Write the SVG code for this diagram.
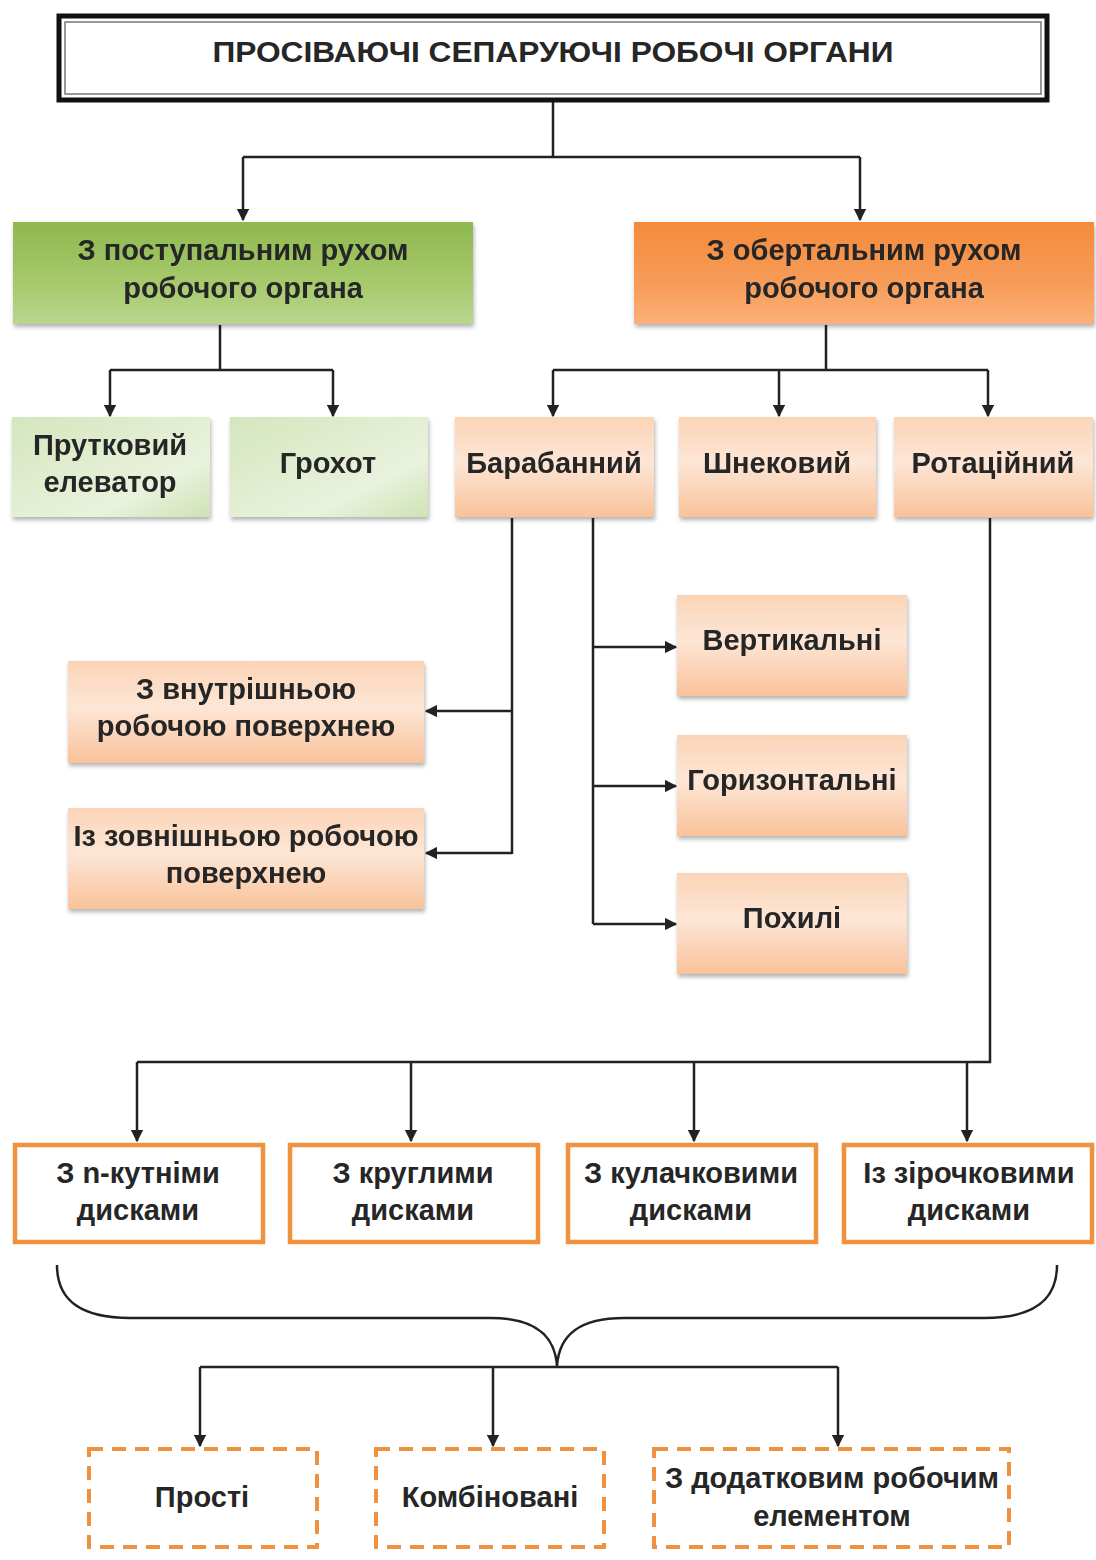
<svg xmlns="http://www.w3.org/2000/svg" width="1096" height="1560" viewBox="0 0 1096 1560">
<style>
text{font-family:"Liberation Sans",Arial,sans-serif;font-size:29px;font-weight:bold;fill:#262626;text-anchor:middle;dominant-baseline:central}
.c{fill:none;stroke:#222;stroke-width:2.5}
.ob{fill:#fff;stroke:#f0913f;stroke-width:4.5}
.db{fill:#fff;stroke:#f0913f;stroke-width:4;stroke-dasharray:14 9}
</style>
<defs>
<linearGradient id="gG" x1="0" y1="0" x2="0" y2="1"><stop offset="0" stop-color="#8fb84f"/><stop offset="0.6" stop-color="#a6c96c"/><stop offset="1" stop-color="#b9d68e"/></linearGradient>
<linearGradient id="gO" x1="0" y1="0" x2="0" y2="1"><stop offset="0" stop-color="#f48b3a"/><stop offset="0.6" stop-color="#f79c59"/><stop offset="1" stop-color="#fbb07a"/></linearGradient>
<linearGradient id="gLG" x1="0" y1="0" x2="1" y2="1"><stop offset="0" stop-color="#d5e6bd"/><stop offset="0.7" stop-color="#e9f2dd"/><stop offset="1" stop-color="#cfe2b4"/></linearGradient>
<linearGradient id="gLO" x1="0" y1="0" x2="0" y2="1"><stop offset="0" stop-color="#fbd4b6"/><stop offset="0.45" stop-color="#fde6d6"/><stop offset="1" stop-color="#f9c29a"/></linearGradient>
<filter id="sh" x="-5%" y="-5%" width="110%" height="120%"><feDropShadow dx="1" dy="3" stdDeviation="2" flood-color="#000" flood-opacity="0.3"/></filter>
<marker id="ar" viewBox="0 0 10 10" refX="9" refY="5" markerWidth="5" markerHeight="5" orient="auto"><path d="M0,0L10,5L0,10z" fill="#222"/></marker>
</defs>
<rect width="1096" height="1560" fill="#fff"/>
<g id="connectors">
<path class="c" d="M553,102V157"/>
<path class="c" d="M243,157H860"/>
<path class="c" d="M243,157V220" marker-end="url(#ar)"/>
<path class="c" d="M860,157V220" marker-end="url(#ar)"/>
<path class="c" d="M220,325V370M110,370H333"/>
<path class="c" d="M110,370V416" marker-end="url(#ar)"/>
<path class="c" d="M333,370V416" marker-end="url(#ar)"/>
<path class="c" d="M826,325V370M553,370H988"/>
<path class="c" d="M553,370V416" marker-end="url(#ar)"/>
<path class="c" d="M779,370V416" marker-end="url(#ar)"/>
<path class="c" d="M988,370V416" marker-end="url(#ar)"/>
<path class="c" d="M512,518V854"/>
<path class="c" d="M512,711H426" marker-end="url(#ar)"/>
<path class="c" d="M512,853H426" marker-end="url(#ar)"/>
<path class="c" d="M593,518V924"/>
<path class="c" d="M593,647H676" marker-end="url(#ar)"/>
<path class="c" d="M593,786H676" marker-end="url(#ar)"/>
<path class="c" d="M593,924H676" marker-end="url(#ar)"/>
<path class="c" d="M990,518V1062H137"/>
<path class="c" d="M137,1062V1141" marker-end="url(#ar)"/>
<path class="c" d="M411,1062V1141" marker-end="url(#ar)"/>
<path class="c" d="M694,1062V1141" marker-end="url(#ar)"/>
<path class="c" d="M967,1062V1141" marker-end="url(#ar)"/>
<path class="c" d="M57,1265C57,1300 80,1318 130,1318H490C535,1318 555,1335 557,1366C559,1335 579,1318 624,1318H984C1034,1318 1057,1300 1057,1265"/>
<path class="c" d="M200,1367H838"/>
<path class="c" d="M200,1367V1446" marker-end="url(#ar)"/>
<path class="c" d="M493,1367V1446" marker-end="url(#ar)"/>
<path class="c" d="M838,1367V1446" marker-end="url(#ar)"/>
</g>
<g id="title">
<rect x="59" y="16" width="988" height="84" fill="#fff" stroke="#111" stroke-width="5"/>
<rect x="65" y="22" width="976" height="72" fill="none" stroke="#777" stroke-width="1.5"/>
<text x="553" y="52" textLength="681" lengthAdjust="spacingAndGlyphs">ПРОСІВАЮЧІ СЕПАРУЮЧІ РОБОЧІ ОРГАНИ</text>
</g>
<g id="translational" filter="url(#sh)">
<rect x="13" y="222" width="460" height="102" fill="url(#gG)"/>
<text x="243" y="250">З поступальним рухом</text>
<text x="243" y="288">робочого органа</text>
</g>
<g id="rotational" filter="url(#sh)">
<rect x="634" y="222" width="460" height="102" fill="url(#gO)"/>
<text x="864" y="250">З обертальним рухом</text>
<text x="864" y="288">робочого органа</text>
</g>
<g id="elevator" filter="url(#sh)">
<rect x="12" y="417" width="198" height="100" fill="url(#gLG)"/>
<text x="110" y="445">Прутковий</text>
<text x="110" y="482">елеватор</text>
</g>
<g id="grokhot" filter="url(#sh)">
<rect x="230" y="417" width="198" height="100" fill="url(#gLG)"/>
<text x="328" y="463">Грохот</text>
</g>
<g id="drum" filter="url(#sh)">
<rect x="455" y="417" width="199" height="100" fill="url(#gLO)"/>
<text x="554" y="463">Барабанний</text>
</g>
<g id="screw" filter="url(#sh)">
<rect x="679" y="417" width="197" height="100" fill="url(#gLO)"/>
<text x="777" y="463">Шнековий</text>
</g>
<g id="rotary" filter="url(#sh)">
<rect x="894" y="417" width="199" height="100" fill="url(#gLO)"/>
<text x="993" y="463">Ротаційний</text>
</g>
<g id="inner" filter="url(#sh)">
<rect x="68" y="661" width="356" height="102" fill="url(#gLO)"/>
<text x="246" y="689">З внутрішньою</text>
<text x="246" y="726">робочою поверхнею</text>
</g>
<g id="outer" filter="url(#sh)">
<rect x="68" y="808" width="356" height="101" fill="url(#gLO)"/>
<text x="246" y="836">Із зовнішньою робочою</text>
<text x="246" y="873">поверхнею</text>
</g>
<g id="vertical" filter="url(#sh)">
<rect x="677" y="595" width="230" height="101" fill="url(#gLO)"/>
<text x="792" y="640">Вертикальні</text>
</g>
<g id="horizontal" filter="url(#sh)">
<rect x="677" y="735" width="230" height="101" fill="url(#gLO)"/>
<text x="792" y="780">Горизонтальні</text>
</g>
<g id="inclined" filter="url(#sh)">
<rect x="677" y="873" width="230" height="101" fill="url(#gLO)"/>
<text x="792" y="918">Похилі</text>
</g>
<g id="ngon">
<rect class="ob" x="15" y="1145" width="248" height="97"/>
<text x="138" y="1173">З n-кутніми</text>
<text x="138" y="1210">дисками</text>
</g>
<g id="round">
<rect class="ob" x="290" y="1145" width="248" height="97"/>
<text x="413" y="1173">З круглими</text>
<text x="413" y="1210">дисками</text>
</g>
<g id="cam">
<rect class="ob" x="568" y="1145" width="248" height="97"/>
<text x="691" y="1173">З кулачковими</text>
<text x="691" y="1210">дисками</text>
</g>
<g id="star">
<rect class="ob" x="844" y="1145" width="248" height="97"/>
<text x="969" y="1173">Із зірочковими</text>
<text x="969" y="1210">дисками</text>
</g>
<g id="simple">
<rect class="db" x="89" y="1449" width="228" height="98"/>
<text x="202" y="1497">Прості</text>
</g>
<g id="combined">
<rect class="db" x="376" y="1449" width="228" height="98"/>
<text x="490" y="1497">Комбіновані</text>
</g>
<g id="additional">
<rect class="db" x="654" y="1449" width="355" height="98"/>
<text x="832" y="1478">З додатковим робочим</text>
<text x="832" y="1516">елементом</text>
</g>
</svg>
